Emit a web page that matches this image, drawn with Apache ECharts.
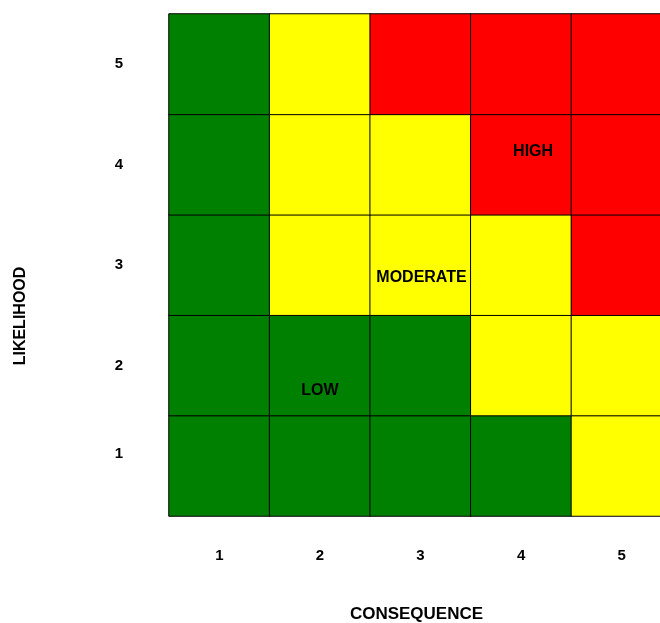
<!DOCTYPE html>
<html>
<head>
<meta charset="utf-8">
<script src="https://cdn.jsdelivr.net/npm/echarts@6/dist/echarts.min.js"></script>
<style>html,body{margin:0;padding:0;background:#fff}#c{width:660px;height:623px}</style>
</head>
<body>
<div id="c"></div>
<script>
const consequence = ['1', '2', '3', '4', '5'];
const likelihood = ['1', '2', '3', '4', '5'];
// risk level per likelihood row (1 = low, 2 = moderate, 3 = high), columns = consequence 1..5
const row1 = [1, 1, 1, 1, 2];
const row2 = [1, 1, 1, 2, 2];
const row3 = [1, 2, 2, 2, 3];
const row4 = [1, 2, 2, 3, 3];
const row5 = [1, 2, 3, 3, 3];
const rows = [row1, row2, row3, row4, row5];
const zoneNames = ['LOW', 'MODERATE', 'HIGH'];
const zoneCells = [[1, 1], [2, 2], [3, 3]]; // [consequence idx, likelihood idx]
const zoneColors = ['#008000', '#ffff00', '#ff0000'];

const labelOffsets = [[0, 25], [1, 13], [12, -13]];
const data = [];
rows.forEach((r, yi) => r.forEach((v, xi) => {
  const item = { value: [xi, yi, v] };
  zoneCells.forEach((zc, zi) => {
    if (zc[0] === xi && zc[1] === yi) {
      item.label = { show: true, formatter: zoneNames[zi], offset: labelOffsets[zi] };
    }
  });
  data.push(item);
}));

const chart = echarts.init(document.getElementById('c'));
const font = 'Liberation Sans, Arial, sans-serif';
chart.setOption({
  animation: false,
  grid: { left: 169, top: 14, width: 503, height: 502, containLabel: false, outerBoundsMode: 'none' },
  xAxis: {
    type: 'category', data: consequence,
    name: 'CONSEQUENCE', nameLocation: 'middle', nameGap: 90,
    nameTextStyle: { fontFamily: font, fontWeight: 'bold', fontSize: 17, color: '#000', padding: [0, 8, 0, 0] },
    axisLine: { show: false }, axisTick: { show: false }, splitLine: { show: false },
    axisLabel: { margin: 32, fontFamily: font, fontWeight: 'bold', fontSize: 15, color: '#000' }
  },
  yAxis: {
    type: 'category', data: likelihood,
    name: 'LIKELIHOOD', nameLocation: 'middle', nameGap: 140, nameRotate: 90,
    nameTextStyle: { fontFamily: font, fontWeight: 'bold', fontSize: 16, color: '#000', padding: [0, 102, 0, 0] },
    axisLine: { show: false }, axisTick: { show: false }, splitLine: { show: false },
    axisLabel: {
      margin: 46, fontFamily: font, fontWeight: 'bold', fontSize: 15, color: '#000',
      formatter: v => v === '1' ? '{a|1}' : v,
      rich: { a: { fontFamily: font, fontWeight: 'bold', fontSize: 15, color: '#000', padding: [0, 0, 24, 0] } }
    }
  },
  visualMap: {
    show: false, type: 'piecewise', dimension: 2,
    pieces: [
      { value: 1, color: zoneColors[0] },
      { value: 2, color: zoneColors[1] },
      { value: 3, color: zoneColors[2] }
    ]
  },
  series: [{
    type: 'heatmap',
    data: data,
    itemStyle: { borderColor: '#000', borderWidth: 1 },
    label: { show: false, fontFamily: font, fontWeight: 'bold', fontSize: 16, color: '#000' },
    emphasis: { disabled: true }
  }]
});
</script>
</body>
</html>
